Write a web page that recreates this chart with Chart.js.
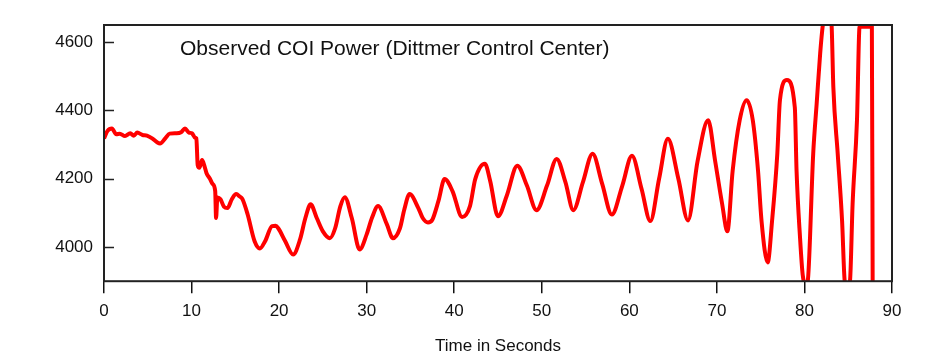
<!DOCTYPE html>
<html>
<head>
<meta charset="utf-8">
<title>Observed COI Power</title>
<script src="https://cdn.jsdelivr.net/npm/chart.js@4"></script>
<style>
  html, body { margin: 0; padding: 0; background: #fff; }
  canvas { display: block; }
</style>
</head>
<body>
<canvas id="coiChart" width="938" height="364"></canvas>
<script>
// values (seconds, MW)
const timeSec = [
  0, 0.4, 0.9, 1.4, 1.8, 2.4, 3.0, 3.4, 3.8, 4.4, 4.9, 5.5, 6.1, 6.4, 7.0, 7.5, 8.3, 8.8, 9.25, 9.7,
  10.05, 10.4, 10.55, 10.7, 10.9, 11.2, 11.5, 11.7, 12.1, 12.4, 12.7, 12.8, 12.95, 13.3, 13.7, 14.1,
  14.6, 15.1, 15.5, 15.8, 16.4, 17.2, 17.8, 18.4, 19.2, 19.6, 19.9, 20.7, 21.6, 22.4, 23.0, 23.6,
  24.3, 25.0, 25.8, 26.4, 27.0, 27.5, 28.3, 29.2, 30.0, 30.6, 31.3, 32.3, 33.0, 33.8, 34.3, 34.9,
  35.9, 36.4, 37.0, 37.5, 38.2, 38.9, 39.8, 40.9, 41.8, 42.4, 43.5, 44.1, 45.0, 46.0, 47.2, 48.3, 49.4,
  50.6, 51.7, 52.7, 53.6, 54.7, 55.8, 56.9, 58.0, 59.2, 60.3, 61.4, 62.4, 63.4, 64.4, 65.6, 66.7,
  67.8, 69.0, 69.8, 70.6, 71.2, 71.8, 72.6, 73.4, 74.1, 74.7, 75.1, 75.8, 76.3, 76.9, 77.2, 78.0,
  78.9, 79.1, 79.5, 79.8, 80.2, 80.4, 81.0, 81.4, 81.8, 82.1, 82.6, 83.1, 83.3, 83.8, 84.3, 84.6,
  84.9, 85.2, 85.5, 86.0, 86.3, 87.0, 87.7, 87.8
];
const powerMW = [
  4318, 4340, 4347, 4330, 4332, 4325, 4333, 4326, 4335, 4328, 4326, 4318, 4306, 4303, 4318, 4332, 4333, 4336, 4347, 4335,
  4333, 4320, 4318, 4240, 4232, 4255, 4235, 4217, 4200, 4185, 4164, 4085, 4145, 4140, 4118, 4114,
  4140, 4155, 4148, 4141, 4096, 4017, 3996, 4017, 4061, 4062, 4055, 4017, 3978, 4023, 4085, 4125,
  4085, 4046, 4026, 4055, 4120, 4146, 4085, 3993, 4037, 4085, 4120, 4067, 4026, 4055, 4110, 4155,
  4114, 4085, 4072, 4080, 4135, 4199, 4164, 4088, 4120, 4199, 4244, 4194, 4090, 4150, 4238, 4180, 4108,
  4180, 4258, 4190, 4108, 4190, 4273, 4185, 4095, 4180, 4267, 4170, 4076, 4200, 4317, 4200, 4078,
  4252, 4371, 4252, 4126, 4046, 4223, 4371, 4430, 4371, 4223, 4076, 3955, 4076, 4273, 4430, 4489,
  4409, 4223, 4026, 3919, 3888, 3905, 4273, 4421, 4568, 4650, 4720, 4650, 4468, 4273, 4076, 3900,
  3880, 3900, 4126, 4371, 4645, 4645, 4645, 3800
];
const xTicks = [0, 10, 20, 30, 40, 50, 60, 70, 80, 90];
const yTicks = [4000, 4200, 4400, 4600];
const chartTitle = 'Observed COI Power (Dittmer Control Center)';
const xTitle = 'Time in Seconds';

const FONT = '"Liberation Sans", Arial, Helvetica, sans-serif';

// box round the plot, inward y ticks and the caption inside the plot
const frame = {
  id: 'frame',
  afterDatasetsDraw(chart) {
    const { ctx, chartArea: a, scales: { y } } = chart;
    ctx.save();
    ctx.strokeStyle = '#222';
    ctx.lineWidth = 2;
    ctx.strokeRect(a.left, a.top, a.right - a.left, a.bottom - a.top);
    ctx.lineWidth = 1.5;
    ctx.beginPath();
    yTicks.forEach(v => {
      const py = Math.round(y.getPixelForValue(v)) + 0.5;
      ctx.moveTo(a.left, py);
      ctx.lineTo(a.left + 10, py);
    });
    ctx.stroke();
    ctx.font = '21px ' + FONT;
    ctx.fillStyle = '#111';
    ctx.textBaseline = 'alphabetic';
    ctx.fillText(chartTitle, a.left + 76, a.top + 30);
    ctx.restore();
  }
};

const ctx = document.getElementById('coiChart').getContext('2d');
new Chart(ctx, {
  type: 'line',
  data: {
    datasets: [{
      data: timeSec.map((t, i) => ({ x: t, y: powerMW[i] })),
      borderColor: '#ff0000',
      borderWidth: 4,
      pointRadius: 0,
      cubicInterpolationMode: 'monotone',
      fill: false,
    }],
  },
  options: {
    responsive: false,
    animation: false,
    layout: { padding: { top: 25, right: 46, bottom: 7, left: 0 } },
    plugins: {
      legend: { display: false },
      tooltip: { enabled: false },
    },
    scales: {
      x: {
        type: 'linear',
        min: 0,
        max: 90,
        afterBuildTicks: scale => { scale.ticks = xTicks.map(v => ({ value: v })); },
        border: { display: false },
        grid: {
          drawOnChartArea: false,
          drawTicks: true,
          tickLength: 12,
          color: '#111',
          lineWidth: 1.5,
        },
        ticks: {
          padding: 8,
          maxRotation: 0,
          color: '#111',
          font: { family: FONT, size: 17 },
          callback: v => String(v),
        },
        title: {
          display: true,
          text: xTitle,
          color: '#111',
          font: { family: FONT, size: 17 },
          padding: { top: 7, bottom: 0 },
        },
      },
      y: {
        min: 3900,
        max: 4650,
        afterBuildTicks: scale => { scale.ticks = yTicks.map(v => ({ value: v })); },
        afterFit: scale => { scale.width = 104; },
        border: { display: false },
        grid: { drawOnChartArea: false, drawTicks: false },
        ticks: {
          padding: 11,
          color: '#111',
          font: { family: FONT, size: 17 },
          callback: v => String(v),
        },
      },
    },
  },
  plugins: [frame],
});
</script>
</body>
</html>
